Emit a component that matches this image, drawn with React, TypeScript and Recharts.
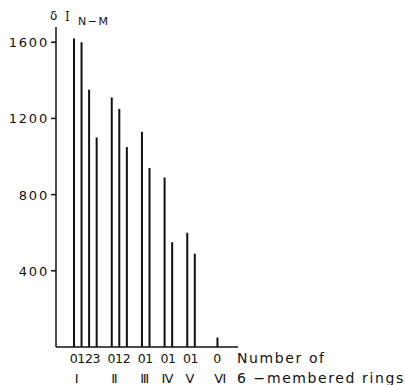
import React from 'react';
import { BarChart, Bar, XAxis, YAxis } from 'recharts';

// Ring-system groups (number of 6-membered rings) and the intensity of each member
const romanLabels = ['Ⅰ', 'Ⅱ', 'Ⅲ', 'Ⅳ', 'Ⅴ', 'Ⅵ'];
const groupI = [1620, 1600, 1350, 1100];
const groupII = [1310, 1250, 1050];
const groupIII = [1130, 940];
const groupIV = [890, 550];
const groupV = [600, 490];
const groupVI = [50];
const yTicks = [400, 800, 1200, 1600];

const groupValues = [groupI, groupII, groupIII, groupIV, groupV, groupVI];

type Row = { key: string; n: string; value: number | null; roman: string };

// One row per member, with empty spacer rows separating the groups
const rows: Row[] = [];
groupValues.forEach((vals, gi) => {
  if (gi > 0) {
    const spacers = gi === groupValues.length - 1 ? 2 : 1;
    for (let s = 0; s < spacers; s++) {
      rows.push({ key: `gap-${gi}-${s}`, n: '', value: null, roman: '' });
    }
  }
  vals.forEach((v, i) => {
    rows.push({ key: `${romanLabels[gi]}-${i}`, n: String(i), value: v, roman: i === 0 ? romanLabels[gi] : '' });
  });
});

const rowByKey: Record<string, Row> = {};
rows.forEach((r) => (rowByKey[r.key] = r));

const INK = '#111';
const FONT = '"DejaVu Sans", sans-serif';

const CategoryTick = (props: any) => {
  const { x, y, payload } = props;
  const row = rowByKey[payload.value];
  if (!row || !row.n) return null;
  return (
    <g>
      <text x={x} y={y + 16} textAnchor="middle" fontFamily={FONT} fontSize={12.5} fill={INK}>
        {row.n}
      </text>
      {row.roman && (
        <text x={x + 3} y={y + 36} textAnchor="middle" fontFamily={FONT} fontSize={13} fill={INK}>
          {row.roman}
        </text>
      )}
    </g>
  );
};

const ValueTick = (props: any) => {
  const { x, y, payload } = props;
  return (
    <text x={x} y={y} dy={5} textAnchor="end" fontFamily={FONT} fontSize={13} letterSpacing={1.8} fill={INK}>
      {payload.value}
    </text>
  );
};

const XTitle = (props: any) => {
  const vb = props.viewBox || {};
  const x0 = vb.x + vb.width - 1;
  const y0 = vb.y;
  return (
    <g fontFamily={FONT} fontSize={14} letterSpacing={1.6} fill={INK}>
      <text x={x0} y={y0 + 16}>Number of</text>
      <text x={x0} y={y0 + 36}>6 −membered rings</text>
    </g>
  );
};

const YTitle = (props: any) => {
  const vb = props.viewBox || {};
  const right = vb.x + vb.width;
  const top = vb.y;
  return (
    <g fill={INK}>
      <text x={right - 6} y={top - 7} fontFamily={FONT} fontSize={12}>δ</text>
      <text x={right + 9} y={top - 6} fontFamily='"DejaVu Serif", serif' fontSize={12}>I</text>
      <text x={right + 22} y={top - 2} fontFamily={FONT} fontSize={11} letterSpacing={1.5}>N−M</text>
    </g>
  );
};

export default function App() {
  return (
    <div style={{ position: 'absolute', left: 0, top: 0 }}>
      <BarChart
        width={405}
        height={385}
        data={rows}
        margin={{ top: 27, right: 167, bottom: 0, left: 6 }}
        barCategoryGap={0}
      >
        <XAxis
          dataKey="key"
          type="category"
          interval={0}
          height={38}
          padding={{ left: 14, right: 17 }}
          axisLine={{ stroke: INK, strokeWidth: 1.5 }}
          tickLine={false}
          tickSize={0}
          tickMargin={0}
          tick={<CategoryTick />}
          label={{ content: <XTitle /> }}
        />
        <YAxis
          width={50}
          domain={[0, 1680]}
          ticks={yTicks}
          allowDataOverflow
          axisLine={{ stroke: INK, strokeWidth: 1.5 }}
          tickLine={{ stroke: INK, strokeWidth: 1.5 }}
          tickSize={5}
          tickMargin={2}
          tick={<ValueTick />}
          label={{ content: <YTitle /> }}
        />
        <Bar dataKey="value" fill={INK} barSize={2} isAnimationActive={false} />
      </BarChart>
    </div>
  );
}
